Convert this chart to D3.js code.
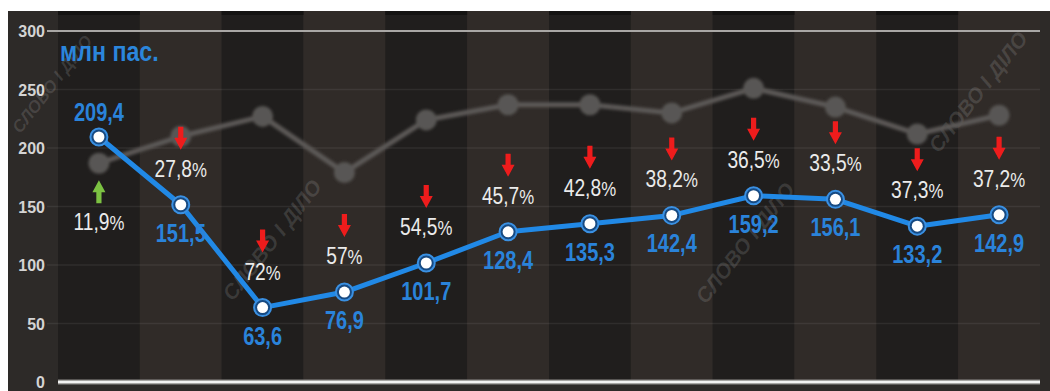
<!DOCTYPE html>
<html>
<head>
<meta charset="utf-8">
<script src="https://cdn.jsdelivr.net/npm/d3@7"></script>
<style>
  html, body { margin: 0; padding: 0; background: #ffffff; }
  svg { display: block; }
</style>
</head>
<body>
<script>
// Monthly passenger traffic, million passengers
const months = ["Січ", "Лют", "Бер", "Кві", "Тра", "Чер", "Лип", "Сер", "Вер", "Жов", "Лис", "Гру"];
const prevYear = [187, 210, 227, 179, 224, 237, 237, 230, 251, 235, 212, 228];
const passengers = [209.4, 151.5, 63.6, 76.9, 101.7, 128.4, 135.3, 142.4, 159.2, 156.1, 133.2, 142.9];
const changePct = [11.9, 27.8, 72, 57, 54.5, 45.7, 42.8, 38.2, 36.5, 33.5, 37.3, 37.2];
const changeDir = ["up", "down", "down", "down", "down", "down", "down", "down", "down", "down", "down", "down"];
const yTicks = [0, 50, 100, 150, 200, 250, 300];
const unitLabel = "млн пас.";
const watermark = "СЛОВО І ДІЛО";

const W = 1050, H = 391;
const SANS = "'Liberation Sans', Arial, sans-serif";
const SQUEEZE = 0.8; // horizontal condensing of label type

const svg = d3.select("body").append("svg")
  .attr("width", W).attr("height", H);

const defs = svg.append("defs");
defs.append("filter").attr("id", "soft")
  .attr("x", "-20%").attr("y", "-20%").attr("width", "140%").attr("height", "140%")
  .append("feGaussianBlur").attr("stdDeviation", 1.4);
defs.append("filter").attr("id", "softer")
  .attr("x", "-50%").attr("y", "-50%").attr("width", "200%").attr("height", "200%")
  .append("feGaussianBlur").attr("stdDeviation", 0.6);

const data = months.map((m, i) => ({
  month: m, prev: prevYear[i], value: passengers[i],
  pct: changePct[i], dir: changeDir[i], i
}));

const x = d3.scaleBand().domain(months).range([58, 1040]).padding(0);
const y = d3.scaleLinear().domain([0, 300]).range([382, 31]);
const cx = d => x(d.month) + x.bandwidth() / 2;

// backdrop
svg.append("rect").attr("x", 8).attr("y", 11).attr("width", W - 8).attr("height", H - 11)
  .attr("fill", "#2d2a28");

// alternating month columns
svg.append("g").selectAll("rect").data(data).join("rect")
  .attr("x", d => x(d.month))
  .attr("y", 11)
  .attr("width", x.bandwidth())
  .attr("height", y(0) - 11)
  .attr("fill", d => d.i % 2 === 0 ? "#201e1d" : "#302b28");

// darker top edge on dark columns
svg.append("g").selectAll("rect").data(data.filter(d => d.i % 2 === 0)).join("rect")
  .attr("x", d => x(d.month))
  .attr("y", 11)
  .attr("width", x.bandwidth())
  .attr("height", 4)
  .attr("fill", "#141312");

// horizontal grid
svg.append("g").selectAll("line").data(yTicks.filter(t => t > 0 && t < 300)).join("line")
  .attr("x1", 47).attr("x2", 1040)
  .attr("y1", d => y(d)).attr("y2", d => y(d))
  .attr("stroke", "#ffffff").attr("stroke-opacity", 0.07).attr("stroke-width", 1.5);

svg.append("line")
  .attr("x1", 47).attr("x2", 1040).attr("y1", y(300)).attr("y2", y(300))
  .attr("stroke", "#a9a7a5").attr("stroke-width", 2);

// baseline
svg.append("line")
  .attr("x1", 58).attr("x2", 1040).attr("y1", y(0)).attr("y2", y(0))
  .attr("stroke", "#8e8c8a").attr("stroke-width", 5);
svg.append("line")
  .attr("x1", 58).attr("x2", 1040).attr("y1", y(0)).attr("y2", y(0))
  .attr("stroke", "#f2f2f2").attr("stroke-width", 2.5);

// y axis
const yAxis = svg.append("g").attr("transform", "translate(45,0)")
  .call(d3.axisLeft(y).tickValues(yTicks).tickSize(0).tickPadding(0).tickFormat(d3.format("d")));
yAxis.select(".domain").remove();
yAxis.selectAll("text")
  .attr("fill", "#d4d4d4")
  .attr("font-family", SANS)
  .attr("font-size", 16)
  .attr("font-weight", "bold")
  .attr("dy", "0.35em");

// watermarks
const marks = [
  { cx: 52, cy: 84, s: 17 }, { cx: 272, cy: 240, s: 21 }, { cx: 745, cy: 243, s: 21 }, { cx: 978, cy: 92, s: 21 }
];
svg.append("g").selectAll("text").data(marks).join("text")
  .attr("transform", d => `translate(${d.cx},${d.cy}) rotate(-52)`)
  .attr("text-anchor", "middle")
  .attr("dy", "0.35em")
  .attr("font-family", SANS)
  .attr("font-weight", "bold")
  .attr("font-style", "italic")
  .attr("font-size", d => d.s)
  .attr("fill", "#ffffff")
  .attr("fill-opacity", 0.13)
  .text(watermark);

// unit caption
svg.append("text")
  .attr("transform", "translate(60,61) scale(0.86,1)")
  .attr("font-family", SANS)
  .attr("font-weight", "bold")
  .attr("font-size", 27)
  .attr("fill", "#2b86dc")
  .text(unitLabel);

// previous-year line (grey)
const line = d3.line().x(cx);
const gPrev = svg.append("g").attr("filter", "url(#soft)");
gPrev.append("path").datum(data)
  .attr("d", line.y(d => y(d.prev)))
  .attr("fill", "none").attr("stroke", "#5c5957").attr("stroke-width", 5)
  .attr("stroke-linejoin", "round");
gPrev.selectAll("circle").data(data).join("circle")
  .attr("cx", cx).attr("cy", d => y(d.prev)).attr("r", 10.5)
  .attr("fill", "#595654");

// change arrows and percent labels
const fmtPct = v => String(v).replace(".", ",");
const arrowPath = (ax, top, dir) => {
  const sw = 2.6, hw = 6.5, len = 23, head = 12;
  if (dir === "down") {
    return `M${ax - sw},${top} L${ax + sw},${top} L${ax + sw},${top + len - head} L${ax + hw},${top + len - head}` +
      ` L${ax},${top + len} L${ax - hw},${top + len - head} L${ax - sw},${top + len - head} Z`;
  }
  return `M${ax},${top} L${ax + hw},${top + head} L${ax + sw},${top + head} L${ax + sw},${top + len}` +
    ` L${ax - sw},${top + len} L${ax - sw},${top + head} L${ax - hw},${top + head} Z`;
};
// baseline of the percent text for each month
const pctBase = d => d.dir === "up" ? y(d.prev) + 67 : y(d.value) - 28;

const gPct = svg.append("g");
gPct.selectAll("path").data(data).join("path")
  .attr("d", d => d.dir === "up"
    ? arrowPath(cx(d), y(d.prev) + 17, "up")
    : arrowPath(cx(d), pctBase(d) - 50, "down"))
  .attr("fill", d => d.dir === "up" ? "#7cc242" : "#ee1c1c")
  .attr("filter", "url(#softer)");

const pctText = gPct.selectAll("text").data(data).join("text")
  .attr("transform", d => `translate(${cx(d)},${pctBase(d)}) scale(${SQUEEZE},1)`)
  .attr("text-anchor", "middle")
  .attr("font-family", SANS)
  .attr("font-size", 24)
  .attr("fill", "#ebebeb");
pctText.append("tspan").text(d => fmtPct(d.pct));
pctText.append("tspan").attr("font-size", 21).text("%");

// current line (blue)
svg.append("path").datum(data)
  .attr("d", line.y(d => y(d.value)))
  .attr("fill", "none").attr("stroke", "#2189e6").attr("stroke-width", 5)
  .attr("stroke-linejoin", "round");

const gPts = svg.append("g");
gPts.selectAll("circle.ring").data(data).join("circle").attr("class", "ring")
  .attr("cx", cx).attr("cy", d => y(d.value)).attr("r", 8.5)
  .attr("fill", "#174a82").attr("stroke", "#3a90e2").attr("stroke-width", 2);
gPts.selectAll("circle.dot").data(data).join("circle").attr("class", "dot")
  .attr("cx", cx).attr("cy", d => y(d.value)).attr("r", 5.5)
  .attr("fill", "#ffffff");

// value labels
const fmtVal = v => d3.format(".1f")(v).replace(".", ",");
svg.append("g").selectAll("text").data(data).join("text")
  .attr("transform", d => `translate(${cx(d)},${d.value > d.prev ? y(d.value) - 16 : y(d.value) + 37}) scale(${SQUEEZE},1)`)
  .attr("text-anchor", "middle")
  .attr("font-family", SANS)
  .attr("font-weight", "bold")
  .attr("font-size", 25)
  .attr("fill", "#2a83da")
  .text(d => fmtVal(d.value));
</script>
</body>
</html>
